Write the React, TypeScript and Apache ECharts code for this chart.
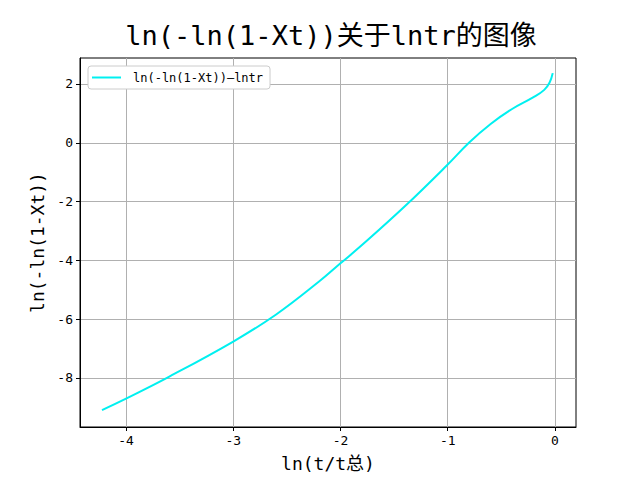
import React, { useEffect, useRef } from "react";
import * as echarts from "echarts";

const xValues = [-4.224, -4.0, -3.6, -3.0, -2.6, -2.2, -2.0, -1.8, -1.4, -1.0, -0.8, -0.6, -0.4, -0.2, -0.1, -0.05, -0.021];
const yValues = [-9.09, -8.7, -7.96, -6.76, -5.84, -4.72, -4.1, -3.48, -2.16, -0.74, 0.01, 0.64, 1.15, 1.55, 1.8, 2.05, 2.37];
const xTicks = [-4, -3, -2, -1, 0];
const yTicks = [-8, -6, -4, -2, 0, 2];
const titleText = "ln(-ln(1-Xt))关于lntr的图像";
const seriesName = "ln(-ln(1-Xt))—lntr";
const xName = "ln(t/t总)";
const yName = "ln(-ln(1-Xt))";

const FONT = "'DejaVu Sans Mono', 'Noto Sans CJK SC', sans-serif";

export default function App() {
  const ref = useRef<HTMLDivElement>(null);
  useEffect(() => {
    if (!ref.current) return;
    const chart = echarts.init(ref.current, undefined, { renderer: "svg" });
    const data = xValues.map((x, i) => [x, yValues[i]]);
    chart.setOption({
      animation: false,
      backgroundColor: "#ffffff",
      textStyle: { fontFamily: FONT },
      graphic: [
        {
          type: "text",
          x: 331,
          y: 35,
          style: {
            text: titleText,
            font: `27px ${FONT}`,
            fill: "#000",
            textAlign: "center",
            textVerticalAlign: "middle",
          },
        },
      ],
      legend: {
        left: 88,
        top: 66,
        orient: "vertical",
        padding: [4, 7, 4, 4],
        backgroundColor: "#fff",
        borderColor: "#cccccc",
        borderWidth: 1,
        borderRadius: 3,
        icon: "rect",
        itemWidth: 29,
        itemHeight: 2,
        textStyle: { fontFamily: FONT, fontSize: 12, color: "#000", padding: [0, 0, 0, 7], lineHeight: 15 },
        data: [seriesName],
      },
      grid: {
        left: 80,
        right: 64,
        top: 58,
        bottom: 53,
        show: true,
        borderColor: "#000",
        borderWidth: 1,
        backgroundColor: "transparent",
      },
      xAxis: {
        type: "value",
        min: -4.429,
        max: 0.196,
        name: xName,
        nameLocation: "middle",
        nameGap: 27,
        nameTextStyle: { fontFamily: FONT, fontSize: 18, color: "#000" },
        axisLine: { show: true, onZero: false, lineStyle: { color: "#000", width: 1 } },
        axisTick: { show: true, inside: false, length: 4, customValues: xTicks, lineStyle: { color: "#000" } },
        axisLabel: { customValues: xTicks, margin: 7, fontSize: 13, color: "#000", fontFamily: FONT },
        splitLine: { show: true, lineStyle: { color: "#b0b0b0", width: 1 } },
      },
      yAxis: {
        type: "value",
        min: -9.667,
        max: 2.884,
        name: yName,
        nameLocation: "middle",
        nameGap: 24,
        nameRotate: 90,
        nameTextStyle: { fontFamily: FONT, fontSize: 18, color: "#000" },
        axisLine: { show: true, onZero: false, lineStyle: { color: "#000", width: 1 } },
        axisTick: { show: true, inside: false, length: 4, customValues: yTicks, lineStyle: { color: "#000" } },
        axisLabel: { customValues: yTicks, margin: 7, fontSize: 13, color: "#000", fontFamily: FONT },
        splitLine: { show: true, lineStyle: { color: "#b0b0b0", width: 1 } },
      },
      series: [
        {
          name: seriesName,
          type: "line",
          data,
          symbol: "none",
          smooth: 0.4,
          lineStyle: { color: "#00f0f0", width: 2 },
          itemStyle: { color: "#00f0f0" },
        },
      ],
    });
    return () => chart.dispose();
  }, []);
  return (
    <div
      ref={ref}
      style={{ position: "fixed", left: 0, top: 0, width: 640, height: 480 }}
    />
  );
}
